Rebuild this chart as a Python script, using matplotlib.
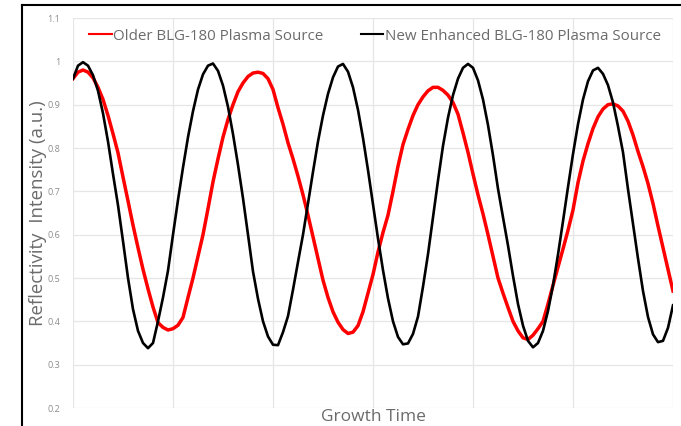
import numpy as np
import matplotlib
matplotlib.use("Agg")
import matplotlib.pyplot as plt
from matplotlib.lines import Line2D

older_source = [
    0.960, 0.975, 0.980, 0.975, 0.962, 0.940, 0.912, 0.875, 0.833, 0.789,
    0.733, 0.678, 0.622, 0.570, 0.520, 0.475, 0.433, 0.397, 0.386, 0.380,
    0.383, 0.391, 0.409, 0.455, 0.500, 0.550, 0.600, 0.660, 0.722, 0.775,
    0.825, 0.866, 0.900, 0.930, 0.950, 0.965, 0.973, 0.975, 0.972, 0.960,
    0.935, 0.893, 0.855, 0.812, 0.775, 0.735, 0.692, 0.645, 0.595, 0.545,
    0.495, 0.455, 0.422, 0.398, 0.381, 0.372, 0.375, 0.390, 0.422, 0.465,
    0.508, 0.560, 0.605, 0.645, 0.700, 0.758, 0.808, 0.843, 0.875, 0.900,
    0.918, 0.932, 0.940, 0.940, 0.933, 0.922, 0.905, 0.878, 0.835, 0.790,
    0.740, 0.692, 0.648, 0.600, 0.550, 0.500, 0.465, 0.432, 0.400, 0.378,
    0.362, 0.358, 0.368, 0.383, 0.400, 0.440, 0.483, 0.525, 0.567, 0.610,
    0.657, 0.720, 0.770, 0.810, 0.845, 0.872, 0.890, 0.900, 0.902, 0.897,
    0.885, 0.862, 0.830, 0.792, 0.757, 0.718, 0.672, 0.620, 0.570, 0.520,
    0.470,
]
new_source = [
    0.960, 0.990, 0.998, 0.990, 0.968, 0.932, 0.880, 0.815, 0.740, 0.668,
    0.585, 0.500, 0.428, 0.378, 0.350, 0.338, 0.350, 0.400, 0.455, 0.517,
    0.600, 0.680, 0.755, 0.825, 0.885, 0.935, 0.970, 0.990, 0.995, 0.978,
    0.944, 0.895, 0.832, 0.761, 0.684, 0.600, 0.515, 0.452, 0.400, 0.365,
    0.346, 0.345, 0.375, 0.412, 0.473, 0.537, 0.600, 0.672, 0.745, 0.815,
    0.875, 0.925, 0.963, 0.988, 0.994, 0.976, 0.940, 0.888, 0.823, 0.749,
    0.670, 0.591, 0.518, 0.453, 0.400, 0.364, 0.347, 0.349, 0.371, 0.411,
    0.480, 0.555, 0.640, 0.725, 0.805, 0.870, 0.922, 0.960, 0.985, 0.994,
    0.985, 0.956, 0.912, 0.853, 0.783, 0.706, 0.640, 0.575, 0.505, 0.440,
    0.390, 0.355, 0.340, 0.350, 0.378, 0.424, 0.483, 0.554, 0.631, 0.710,
    0.786, 0.855, 0.912, 0.954, 0.979, 0.985, 0.971, 0.945, 0.905, 0.850,
    0.790, 0.705, 0.625, 0.545, 0.470, 0.410, 0.370, 0.352, 0.355, 0.385,
    0.437,
]
series_names = ["Older BLG-180 Plasma Source", "New Enhanced BLG-180 Plasma Source"]
y_ticks = [0.2, 0.3, 0.4, 0.5, 0.6, 0.7, 0.8, 0.9, 1.0, 1.1]
y_tick_labels = ["0.2", "0.3", "0.4", "0.5", "0.6", "0.7", "0.8", "0.9", "1", "1.1"]
x_label = "Growth Time"
y_label = "Reflectivity  Intensity (a.u.)"

FONT = ["Open Sans", "DejaVu Sans"]
plt.rcParams["font.family"] = FONT

W, H = 681, 426
fig = plt.figure(figsize=(W / 100, H / 100), dpi=100)
ax = fig.add_axes([73 / W, 1 - 408 / H, 600 / W, 390 / H])

t_old = np.linspace(0, 6, len(older_source))
t_new = np.linspace(0, 6, len(new_source))

ax.plot(t_old, older_source, color="#ff0000", lw=2.5, solid_joinstyle="round", zorder=3)
ax.plot(t_new, new_source, color="#000000", lw=1.9, solid_joinstyle="round", zorder=4)

ax.set_xlim(0, 6)
ax.set_ylim(0.2, 1.1)
ax.set_xticks(np.arange(0, 7))
ax.set_yticks(y_ticks)
ax.set_yticklabels(y_tick_labels)
ax.tick_params(axis="x", length=0, labelbottom=False)
ax.tick_params(axis="y", length=0, pad=9, labelsize=6.5, labelcolor="#8c8c8c")
ax.grid(True, color="#e6e6e6", lw=0.9, zorder=0)
ax.set_axisbelow(True)
for s in ax.spines.values():
    s.set_visible(False)

ax.set_xlabel(x_label, fontsize=12.5, color="#6b6b6b", labelpad=1)
ax.set_ylabel(y_label, fontsize=13.4, color="#6b6b6b")
ax.yaxis.set_label_coords((47 - 73) / 600, 0.5)

handles = [Line2D([], [], color="#ff0000", lw=1.5),
           Line2D([], [], color="#000000", lw=1.5)]
fig.legend(handles, series_names, ncol=2, loc="center left",
           bbox_to_anchor=(89 / W, 1 - 36 / H), frameon=False,
           fontsize=10.9, labelcolor="#6b6b6b", handlelength=1.5,
           handletextpad=0.1, columnspacing=2.45, borderpad=0, borderaxespad=0)

# black frame of the surrounding slide box
fig.add_artist(Line2D([21.5 / W, 21.5 / W], [0, 1 - 5 / H], color="black", lw=1.5,
                      transform=fig.transFigure))
fig.add_artist(Line2D([21.5 / W, 1], [1 - 5 / H, 1 - 5 / H], color="black", lw=1.5,
                      transform=fig.transFigure))

fig.savefig("out.png", dpi=100)
